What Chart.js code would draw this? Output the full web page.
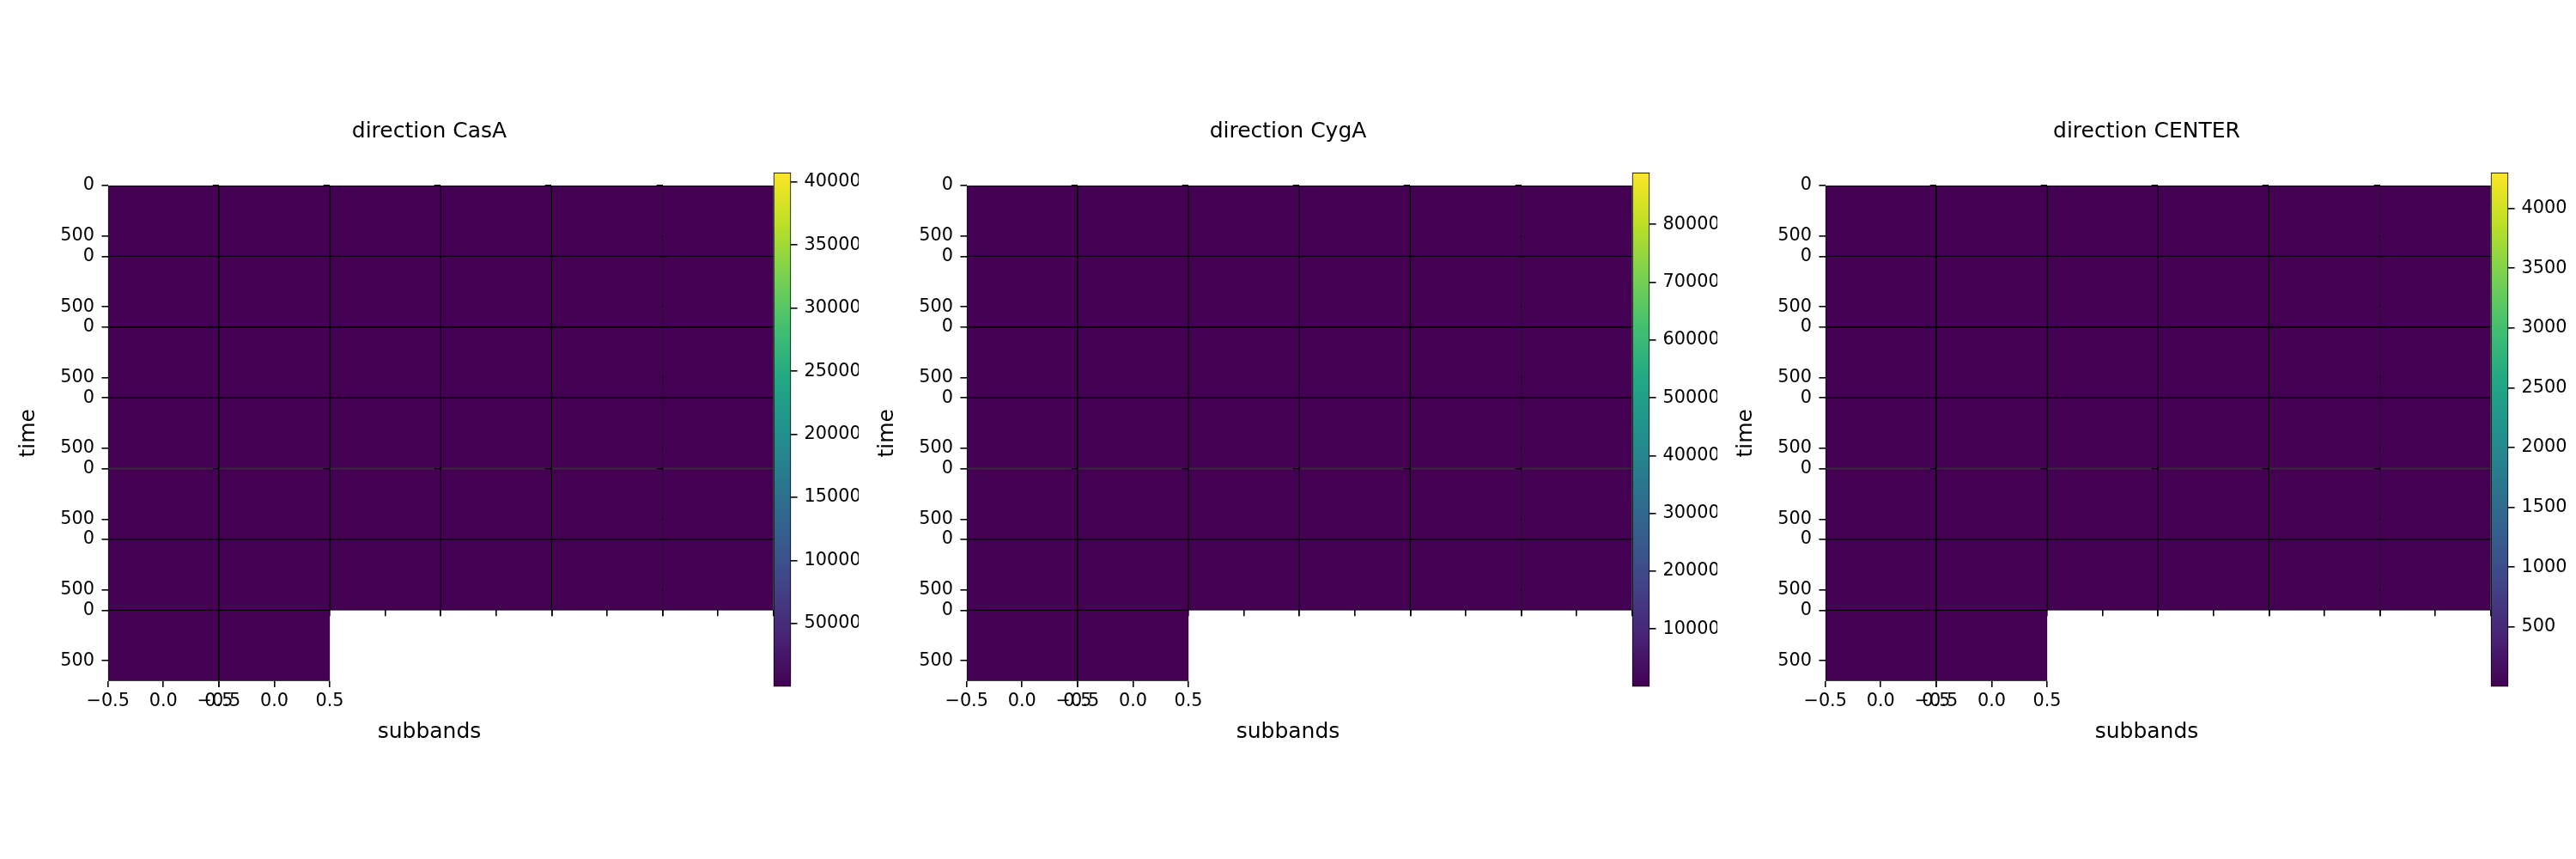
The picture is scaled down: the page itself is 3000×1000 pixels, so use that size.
<!DOCTYPE html>
<html>
<head>
<meta charset="utf-8">
<script src="https://cdn.jsdelivr.net/npm/chart.js@4.4.1/dist/chart.umd.min.js"></script>
<style>
  html, body { margin: 0; padding: 0; background: #fff; }
  #fig { position: relative; width: 3000px; height: 1000px; overflow: hidden; background: #fff; }
  #fig canvas { position: absolute; }
</style>
</head>
<body>
<div id="fig"></div>
<script>
const directions = ['CasA', 'CygA', 'CENTER'];
const timeSamples = 700;          // time samples in each subband image
const timeTicks = [0, 500];       // y ticks of every small image
const subbandTicks = [-0.5, 0.0, 0.5];

// level of each subband image (all sit at the bottom of the colour scale), one list per grid row
const casaLevels = [
  [0, 0, 0, 0, 0, 0],
  [0, 0, 0, 0, 0, 0],
  [0, 0, 0, 0, 0, 0],
  [0, 0, 0, 0, 0, 0],
  [0, 0, 0, 0, 0, 0],
  [0, 0, 0, 0, 0, 0],
  [0, 0],
];
const cygaLevels = [
  [0, 0, 0, 0, 0, 0],
  [0, 0, 0, 0, 0, 0],
  [0, 0, 0, 0, 0, 0],
  [0, 0, 0, 0, 0, 0],
  [0, 0, 0, 0, 0, 0],
  [0, 0, 0, 0, 0, 0],
  [0, 0],
];
const centerLevels = [
  [0, 0, 0, 0, 0, 0],
  [0, 0, 0, 0, 0, 0],
  [0, 0, 0, 0, 0, 0],
  [0, 0, 0, 0, 0, 0],
  [0, 0, 0, 0, 0, 0],
  [0, 0, 0, 0, 0, 0],
  [0, 0],
];

// colour bar limits and ticks
const casaRange = [0, 407500];
const cygaRange = [0, 890000];
const centerRange = [0, 4300];
const casaBarTicks = [50000, 100000, 150000, 200000, 250000, 300000, 350000, 400000];
const cygaBarTicks = [100000, 200000, 300000, 400000, 500000, 600000, 700000, 800000];
const centerBarTicks = [500, 1000, 1500, 2000, 2500, 3000, 3500, 4000];

const panels = [
  {name: directions[0], levels: casaLevels, range: casaRange, barTicks: casaBarTicks},
  {name: directions[1], levels: cygaLevels, range: cygaRange, barTicks: cygaBarTicks},
  {name: directions[2], levels: centerLevels, range: centerRange, barTicks: centerBarTicks},
];

Chart.defaults.font.family = "'DejaVu Sans', sans-serif";
Chart.defaults.color = '#000';

const viridis = ['#440154', '#482475', '#414487', '#355f8d', '#2a788e', '#21918c',
                 '#22a884', '#44bf70', '#7ad151', '#bddf26', '#fde725'];

function hexToRgb(h) {
  return [1, 3, 5].map(i => parseInt(h.slice(i, i + 2), 16));
}

function viridisAt(t) {
  t = Math.min(1, Math.max(0, t)) * (viridis.length - 1);
  const i = Math.min(Math.floor(t), viridis.length - 2);
  const f = t - i;
  const a = hexToRgb(viridis[i]), b = hexToRgb(viridis[i + 1]);
  return 'rgb(' + a.map((v, k) => Math.round(v + (b[k] - v) * f)).join(',') + ')';
}

const fmtSub = v => v.toFixed(1).replace('-', '\u2212');
const tickFont = {size: 20.8};
const labelFont = {size: 25, weight: 'normal'};
const tickGrid = {display: true, offset: false, drawOnChartArea: false, drawTicks: true,
                  tickLength: 7.3, color: '#000', lineWidth: 1.6};

function addCanvas(left, top, w, h) {
  const c = document.createElement('canvas');
  c.width = w; c.height = h;
  c.style.left = left + 'px';
  c.style.top = top + 'px';
  document.getElementById('fig').appendChild(c);
  return c;
}

function gridChart(canvas, p) {
  const rows = p.levels.length;
  const cols = Math.max(...p.levels.map(r => r.length));
  const yMax = rows * timeSamples - 0.5;
  const lastRow = c => p.levels.reduce((m, row, r) => (row.length > c ? r : m), -1);
  const rowsWithCol = c => p.levels.map((row, r) => (row.length > c ? r : -1)).filter(r => r >= 0);
  const rowTicks = list => list.flatMap(r => timeTicks.map(t => ({value: r * timeSamples + t, local: t})));
  const colTicks = list => list.flatMap(c => subbandTicks.map(s => ({value: c + s, local: s})));
  const allCols = [...Array(cols).keys()];

  const cells = [];
  p.levels.forEach((row, r) => row.forEach((v, c) => {
    cells.push({x: c, y: [r * timeSamples - 0.5, (r + 1) * timeSamples - 0.5], v});
  }));

  const scales = {
    xc: {type: 'linear', display: false, offset: false, min: -0.5, max: cols - 0.5,
         afterBuildTicks: a => { a.ticks = []; }},
    x: {type: 'linear', position: 'bottom', offset: false, min: -0.5, max: cols - 0.5,
        afterBuildTicks: a => { a.ticks = colTicks(allCols.filter(c => lastRow(c) === rows - 1)); },
        afterFit: a => { a.height = 40; },
        ticks: {autoSkip: false, minRotation: 0, maxRotation: 0, font: tickFont, padding: 4,
                callback: (v, i, t) => fmtSub(t[i].local)},
        grid: tickGrid, border: {display: false}},
    y: {type: 'linear', position: 'left', offset: false, reverse: true, min: -0.5, max: yMax,
        afterBuildTicks: a => { a.ticks = rowTicks([...Array(rows).keys()]); },
        afterFit: a => { a.width = 125.7; },
        ticks: {autoSkip: false, font: tickFont, padding: 8.5,
                callback: (v, i, t) => String(t[i].local)},
        grid: tickGrid, border: {display: false},
        title: {display: true, text: 'time', font: labelFont, padding: {top: 18, bottom: 0}}},
    pad: {type: 'linear', position: 'right', display: true,
          ticks: {display: false}, grid: {display: false}, border: {display: false},
          afterFit: a => { a.width = 99.3; }},
  };

  // left spines of inner columns carry their own tick marks
  for (let c = 1; c < cols; c++) {
    scales['yc' + c] = {type: 'linear', axis: 'y', position: {x: c - 0.5}, offset: false,
      reverse: true, min: -0.5, max: yMax,
      afterBuildTicks: a => { a.ticks = rowTicks(rowsWithCol(c)); },
      ticks: {autoSkip: false, callback: () => ''},
      grid: tickGrid, border: {display: false}};
  }
  // columns whose lowest image sits above the last row get ticks without labels
  const ends = [...new Set(allCols.map(lastRow))].filter(r => r < rows - 1);
  ends.forEach(r => {
    scales['xb' + r] = {type: 'linear', axis: 'x', position: {y: (r + 1) * timeSamples - 0.5},
      offset: false, min: -0.5, max: cols - 0.5,
      afterBuildTicks: a => { a.ticks = colTicks(allCols.filter(c => lastRow(c) === r)); },
      ticks: {autoSkip: false, minRotation: 0, maxRotation: 0, callback: () => ''},
      grid: tickGrid, border: {display: false}};
  });

  return new Chart(canvas, {
    type: 'bar',
    data: {
      datasets: [{
        data: cells,
        xAxisID: 'xc',
        yAxisID: 'y',
        backgroundColor: ctx => viridisAt(((ctx.raw ? ctx.raw.v : 0) - p.range[0]) / (p.range[1] - p.range[0])),
        borderColor: '#000',
        borderWidth: 1,
        borderSkipped: false,
        barPercentage: 1,
        categoryPercentage: 1,
      }],
    },
    options: {
      responsive: false,
      devicePixelRatio: 1,
      animation: false,
      events: [],
      layout: {padding: {top: 0, left: 0, right: 0, bottom: 133}},
      plugins: {
        legend: {display: false},
        tooltip: {enabled: false},
        title: {display: true, text: 'direction ' + p.name, font: labelFont, color: '#000',
                padding: {top: 138.5, bottom: 47.5}},
        subtitle: {display: true, position: 'bottom', text: 'subbands', font: labelFont, color: '#000',
                   padding: {top: 4.3, bottom: 0}},
      },
      scales,
    },
  });
}

function colorbarChart(canvas, p) {
  return new Chart(canvas, {
    type: 'bar',
    data: {
      labels: [''],
      datasets: [{
        data: [p.range],
        backgroundColor: ctx => {
          const area = ctx.chart.chartArea;
          if (!area) return viridis[0];
          const g = ctx.chart.ctx.createLinearGradient(0, area.bottom, 0, area.top);
          viridis.forEach((col, i) => g.addColorStop(i / (viridis.length - 1), col));
          return g;
        },
        borderColor: '#000',
        borderWidth: 1.3,
        borderSkipped: false,
        barPercentage: 1,
        categoryPercentage: 1,
      }],
    },
    options: {
      responsive: false,
      devicePixelRatio: 1,
      animation: false,
      events: [],
      layout: {padding: {left: 20.7, right: 0, top: 20.7, bottom: 19.3}},
      plugins: {legend: {display: false}, tooltip: {enabled: false}},
      scales: {
        x: {display: false},
        y: {position: 'right', min: p.range[0], max: p.range[1],
            afterBuildTicks: a => { a.ticks = p.barTicks.map(v => ({value: v})); },
            afterFit: a => { a.width = 78.7; },
            ticks: {autoSkip: false, font: tickFont, padding: 8, callback: v => String(v)},
            grid: tickGrid, border: {display: false}},
      },
    },
  });
}

panels.forEach((p, i) => {
  gridChart(addCanvas(i * 1000, 0, 1000, 1000), p);
  colorbarChart(addCanvas(i * 1000 + 880, 180, 120, 640), p);
});
</script>
</body>
</html>
